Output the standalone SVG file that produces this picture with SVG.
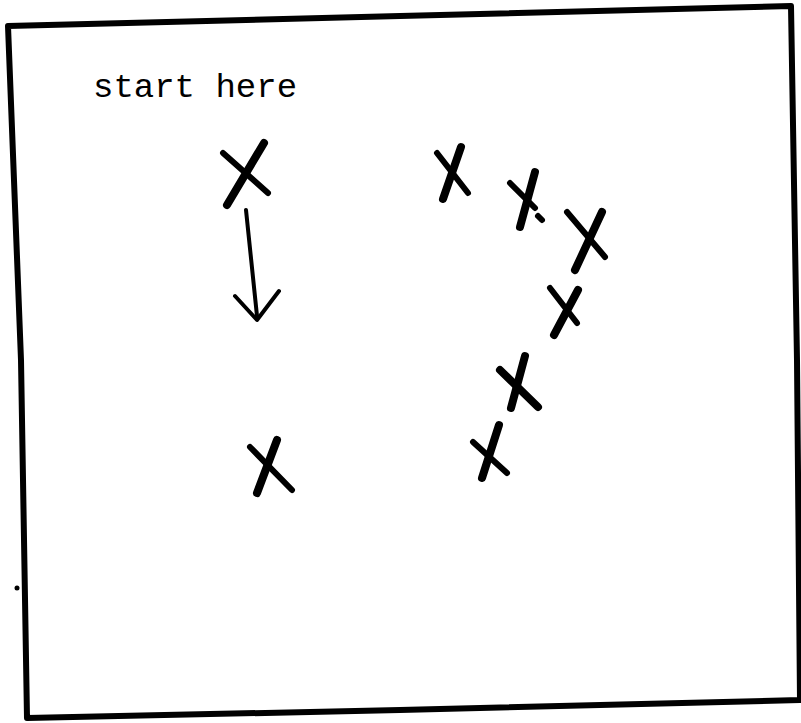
<svg xmlns="http://www.w3.org/2000/svg" width="801" height="723" viewBox="0 0 801 723">
<style>
.frame{fill:none;stroke:#000;stroke-width:6;stroke-linejoin:round;stroke-linecap:round}
.x{stroke:#000;stroke-width:8;stroke-linecap:round;fill:none}
.xt{stroke:#000;stroke-width:6;stroke-linecap:round;fill:none}
.arr{stroke:#000;stroke-width:4;stroke-linecap:round;stroke-linejoin:round;fill:none}
.lbl{font-family:"Liberation Mono","DejaVu Sans Mono",monospace;font-size:34px;fill:#000}
</style>
<rect width="801" height="723" fill="#fff"/>
<path class="frame" d="M8,26 L400,16 L791,6 L797,360 L800,700 L400,710 L27,718 L21,360 Z"/>
<circle cx="17" cy="588" r="2.5" fill="#000"/>
<g id="label"><text class="lbl" x="93" y="97">start here</text></g>
<g id="x1"><path class="xt" d="M223,153 L268,193"/><path class="x" d="M264,143 L227,205"/></g>
<g id="x2"><path class="xt" d="M437,153 L468,193"/><path class="x" d="M461,147 L443,199"/></g>
<g id="x3"><path class="xt" d="M510,183 L535,208"/><path class="x" d="M535,172 L520,227"/><path class="xt" d="M538,216 L542,220"/></g>
<g id="x4"><path class="xt" d="M567,212 L605,257"/><path class="x" d="M602,212 L575,270"/></g>
<g id="x5"><path class="xt" d="M550,288 L577,323"/><path class="x" d="M578,290 L554,335"/></g>
<g id="x6"><path class="x" d="M500,370 L538,407"/><path class="x" d="M525,356 L511,408"/></g>
<g id="x7"><path class="xt" d="M473,442 L507,473"/><path class="x" d="M499,425 L482,478"/></g>
<g id="x8"><path class="xt" d="M250,447 L292,490"/><path class="x" d="M277,440 L257,493"/></g>
<g id="connectors"><path class="arr" d="M246,210 L257,316"/><path class="arr" d="M235,296 L257,320 L279,291"/></g>
</svg>
